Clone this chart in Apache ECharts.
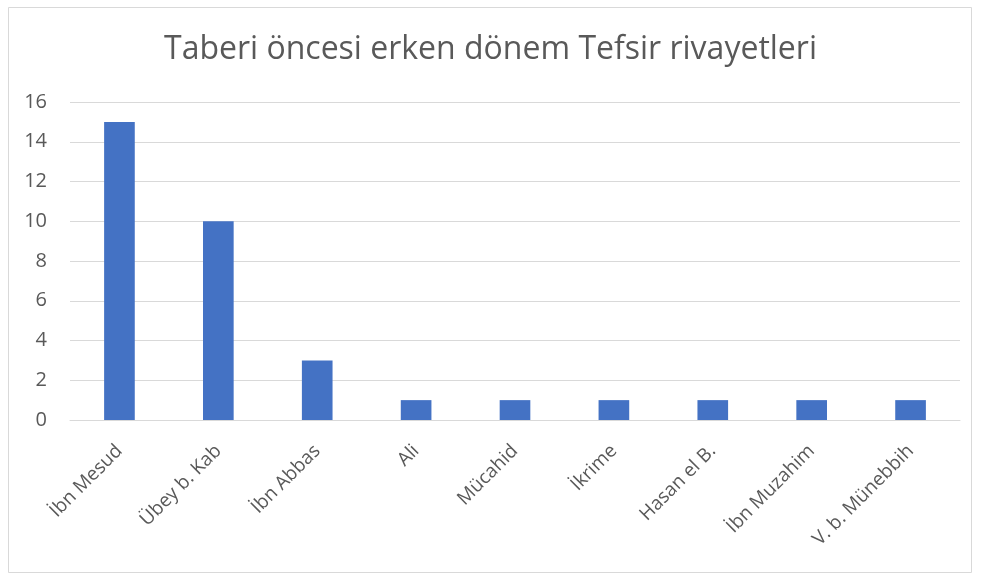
<!DOCTYPE html>
<html>
<head>
<meta charset="utf-8">
<script src="https://cdn.jsdelivr.net/npm/echarts@6/dist/echarts.min.js"></script>
<style>
    html, body { margin: 0; padding: 0; background: #fff; }
    #chart { width: 981px; height: 580px; }
</style>
</head>
<body>
<div id="chart"></div>
<script>
// Veriler
const categories = ['İbn Mesud', 'Übey b. Kab', 'İbn Abbas', 'Ali', 'Mücahid', 'İkrime', 'Hasan el B.', 'İbn Muzahim', 'V. b. Münebbih'];
const values = [15, 10, 3, 1, 1, 1, 1, 1, 1];
const yTicks = [0, 2, 4, 6, 8, 10, 12, 14, 16];

const chartDom = document.getElementById('chart');
const myChart = echarts.init(chartDom);
const fontFamily = '"Open Sans", "Noto Sans", sans-serif';

const option = {
    backgroundColor: '#fff',
    textStyle: { fontFamily: fontFamily },
    title: {
        text: 'Taberi öncesi erken dönem Tefsir rivayetleri',
        left: 'center',
        top: 29,
        textStyle: {
            fontFamily: fontFamily,
            fontSize: 32,
            fontWeight: 'normal',
            color: '#595959'
        }
    },
    graphic: [
        {
            type: 'rect',
            shape: { x: 8.5, y: 7.5, width: 963, height: 565 },
            style: { fill: 'none', stroke: '#d9d9d9', lineWidth: 1 },
            silent: true
        }
    ],
    grid: {
        left: 70,
        right: 21,
        top: 102,
        bottom: 160
    },
    xAxis: {
        type: 'category',
        data: categories,
        axisLine: { lineStyle: { color: '#d9d9d9' } },
        axisTick: { show: false },
        axisLabel: {
            rotate: 45,
            interval: 0,
            margin: 28,
            fontSize: 19,
            color: '#595959'
        }
    },
    yAxis: {
        type: 'value',
        min: yTicks[0],
        max: yTicks[yTicks.length - 1],
        interval: 2,
        axisLine: { show: false },
        axisTick: { show: false },
        splitLine: { lineStyle: { color: '#d9d9d9' } },
        axisLabel: {
            fontSize: 20,
            color: '#595959',
            margin: 23
        }
    },
    series: [
        {
            type: 'bar',
            data: values,
            barWidth: '31%',
            itemStyle: { color: '#4472c4' }
        }
    ]
};
myChart.setOption(option);
</script>
</body>
</html>
